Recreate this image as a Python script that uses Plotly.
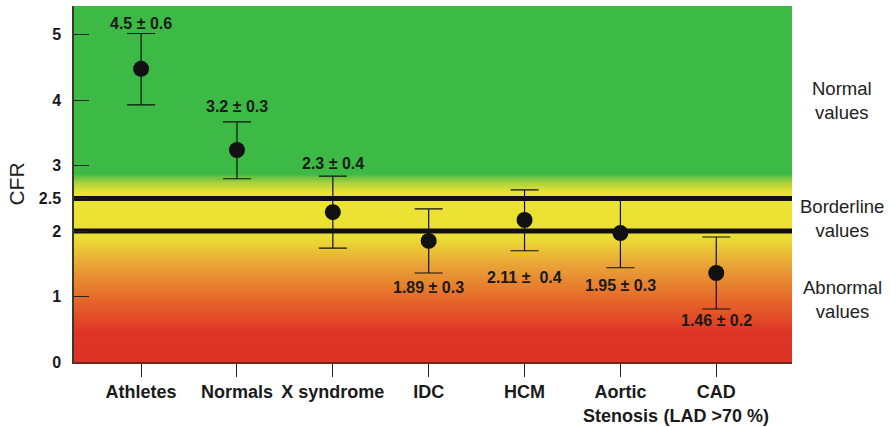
import numpy as np
import plotly.graph_objects as go

categories = ["Athletes", "Normals", "X syndrome", "IDC", "HCM", "Aortic<br>Stenosis", "CAD<br>(LAD >70 %)"]
cfr_mean = [4.48, 3.24, 2.29, 1.85, 2.17, 1.97, 1.36]
err_plus = [0.54, 0.43, 0.55, 0.49, 0.46, 0.55, 0.55]
err_minus = [0.55, 0.44, 0.55, 0.49, 0.47, 0.53, 0.55]
value_labels = ["4.5 ± 0.6", "3.2 ± 0.3", "2.3 ± 0.4", "1.89 ± 0.3", "2.11 ±  0.4", "1.95 ± 0.3", "1.46 ± 0.2"]
label_above = [True, True, True, False, False, False, False]
label_shift = [10, 15, 13, 14, 27, 18, 12]
y_ticks = [0, 1, 2, 2.5, 3, 4, 5]
thresholds = [2.0, 2.5]
zones = [("Normal<br>values", 4.0), ("Borderline<br>values", 2.2), ("Abnormal<br>values", 0.95)]

YMAX = 5.44
XMIN, XMAX = -0.70, 6.79
xs = list(range(len(categories)))

# background gradient (value-based colour bands)
grad_y = np.linspace(0, YMAX, 300)
stops = [
    (0.0, "rgb(221,50,38)"),
    (0.45, "rgb(222,52,38)"),
    (1.0, "rgb(230,108,42)"),
    (1.5, "rgb(232,165,55)"),
    (1.92, "rgb(236,224,52)"),
    (2.6, "rgb(236,228,50)"),
    (2.75, "rgb(170,208,62)"),
    (2.88, "rgb(61,186,69)"),
    (YMAX, "rgb(61,186,69)"),
]
colorscale = [[v / YMAX, c] for v, c in stops]

fig = go.Figure()
fig.add_trace(go.Heatmap(
    x=[XMIN, XMAX], y=grad_y, z=[[v, v] for v in grad_y],
    zmin=0, zmax=YMAX, colorscale=colorscale, showscale=False,
    zsmooth="best", hoverinfo="skip"))

for t in thresholds:
    fig.add_trace(go.Scatter(x=[XMIN, XMAX], y=[t, t], mode="lines",
                             line=dict(color="#111111", width=5),
                             showlegend=False, hoverinfo="skip"))

fig.add_trace(go.Scatter(
    x=xs, y=cfr_mean, mode="markers",
    marker=dict(color="#111111", size=16),
    error_y=dict(type="data", symmetric=False, array=err_plus, arrayminus=err_minus,
                 color="#111111", thickness=1.2, width=14),
    showlegend=False))

for i, (lab, above, sh) in enumerate(zip(value_labels, label_above, label_shift)):
    if above:
        yv = cfr_mean[i] + err_plus[i]
        shift = sh
    else:
        yv = cfr_mean[i] - err_minus[i]
        shift = -sh
    fig.add_annotation(x=xs[i], y=yv, text=lab, showarrow=False,
                       yanchor="middle", yshift=shift,
                       font=dict(family="Liberation Sans", size=16, color="#1a1a1a", weight="bold"))

for text, yv in zones:
    fig.add_annotation(x=1.07, xref="paper", y=yv, yref="y", text=text, showarrow=False,
                       xanchor="center", yanchor="middle",
                       font=dict(family="Liberation Sans", size=18.5, color="#222222"))

fig.update_layout(
    width=890, height=427,
    margin=dict(l=74, r=98, t=6, b=65),
    paper_bgcolor="white", plot_bgcolor="white",
    xaxis=dict(range=[XMIN, XMAX], tickvals=xs, ticktext=categories, automargin=False,
               showgrid=False, zeroline=False, ticks="outside", ticklen=13,
               tickcolor="#222222", showline=True, linecolor="#6b2a20", linewidth=1.5,
               tickfont=dict(family="Liberation Sans", size=18, color="#1a1a1a", weight="bold")),
    yaxis=dict(range=[0, YMAX], tickvals=y_ticks, ticktext=[str(v) for v in y_ticks], automargin=False,
               showgrid=False, zeroline=False, ticks="inside", ticklen=15, ticklabelstandoff=8,
               tickcolor="#222222", showline=True, linecolor="#3a3a2a", linewidth=1.5,
               tickfont=dict(family="Liberation Sans", size=16, color="#1a1a1a", weight="bold"),
               title=dict(text="CFR", font=dict(family="Liberation Sans", size=21, color="#222222"),
                          standoff=8)),
)

fig.write_html("out.html", config={"displayModeBar": False},
               post_script="document.body.style.margin='0';document.body.style.overflow='hidden';")
